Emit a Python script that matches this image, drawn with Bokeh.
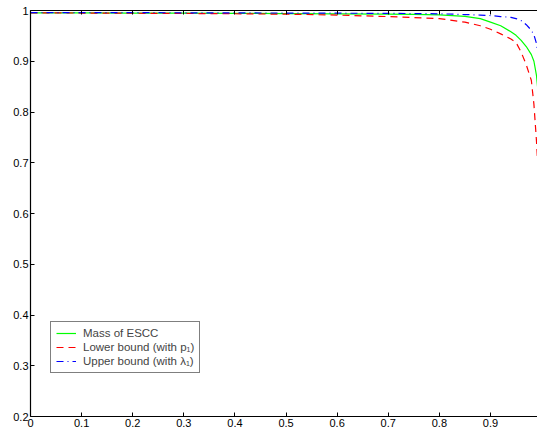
from bokeh.plotting import figure
from bokeh.models import LinearAxis, Range1d, Legend, LegendItem, FixedTicker
from bokeh.embed import file_html
from bokeh.resources import INLINE

# ---- data ----
x_vals = [0.0, 0.1, 0.2, 0.3, 0.4, 0.5, 0.6, 0.7, 0.75, 0.8, 0.85, 0.88, 0.9,
          0.92, 0.94, 0.95, 0.96, 0.97, 0.98, 0.985, 0.99, 0.995]
mass_escc = [0.9955, 0.9953, 0.995, 0.9947, 0.9944, 0.994, 0.9935, 0.993, 0.9925,
             0.9915, 0.9885, 0.984, 0.977, 0.970, 0.958, 0.951, 0.941, 0.929,
             0.913, 0.900, 0.872, 0.82]
lower_bound = [0.9955, 0.995, 0.9946, 0.9942, 0.9936, 0.9928, 0.991, 0.988, 0.986,
               0.984, 0.977, 0.970, 0.963, 0.954, 0.944, 0.937, 0.918, 0.893,
               0.862, 0.815, 0.743, 0.65]
upper_bound = [0.996, 0.996, 0.9958, 0.9955, 0.9952, 0.995, 0.9947, 0.9943, 0.994,
               0.9935, 0.992, 0.991, 0.990, 0.988, 0.9865, 0.984, 0.980, 0.972,
               0.961, 0.952, 0.935, 0.90]
x_ticks = [0, 0.1, 0.2, 0.3, 0.4, 0.5, 0.6, 0.7, 0.8, 0.9, 1.0]
y_ticks = [0.2, 0.3, 0.4, 0.5, 0.6, 0.7, 0.8, 0.9, 1.0]

FONT = "Liberation Sans"

p = figure(width=537, height=429, output_backend="svg", toolbar_location=None,
           x_range=Range1d(0, 0.992), y_range=Range1d(0.2, 1.0),
           min_border_left=30, min_border_right=0, min_border_top=10,
           min_border_bottom=0)
p.outline_line_color = None
p.xgrid.visible = False
p.ygrid.visible = False
p.background_fill_color = "white"
p.border_fill_color = "white"

for ax, ticks in ((p.xaxis[0], x_ticks), (p.yaxis[0], y_ticks)):
    ax.ticker = FixedTicker(ticks=ticks)
    ax.major_tick_in = 4
    ax.major_tick_out = 0
    ax.minor_tick_line_color = None
    ax.axis_line_color = "black"
    ax.axis_line_width = 1.2
    ax.major_label_text_font = FONT
    ax.major_label_text_font_size = "11px"
    ax.major_label_text_color = "black"
    ax.major_label_standoff = 2

top = LinearAxis(ticker=FixedTicker(ticks=x_ticks), major_tick_in=4, major_tick_out=0,
                 minor_tick_line_color=None, major_label_text_font_size="0px",
                 major_label_text_color=None, axis_line_width=1.2, major_label_standoff=0)
p.add_layout(top, "above")

g = p.line(x_vals, mass_escc, line_color="#00ff00", line_width=1.2)
r = p.line(x_vals, lower_bound, line_color="#ff0000", line_width=1.2, line_dash="7 5")
b = p.line(x_vals, upper_bound, line_color="#0000ff", line_width=1.2, line_dash="7 4 1 4")

legend = Legend(items=[
    LegendItem(label="Mass of ESCC", renderers=[g]),
    LegendItem(label="Lower bound (with p\u2081)", renderers=[r]),
    LegendItem(label="Upper bound (with \u03bb\u2081)", renderers=[b]),
], location=(20, 43))
legend.label_text_font = FONT
legend.label_text_font_size = "11.5px"
legend.label_height = 12
legend.glyph_height = 12
legend.glyph_width = 20
legend.spacing = 2
legend.padding = 5
legend.margin = 0
legend.label_standoff = 7
legend.border_line_color = "black"
legend.border_line_width = 1.2
legend.background_fill_alpha = 1
p.add_layout(legend, "center")

open("out.html", "w").write(file_html(p, INLINE))
